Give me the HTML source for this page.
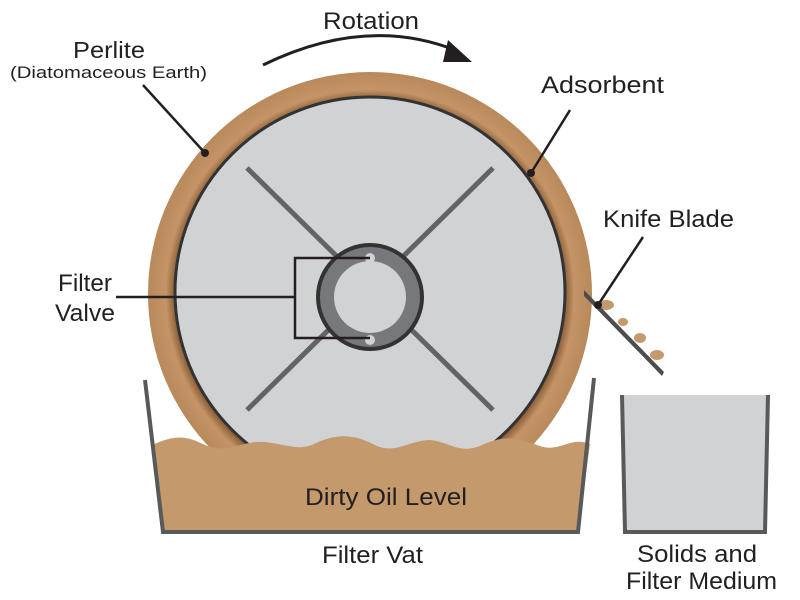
<!DOCTYPE html>
<html><head><style>
body{margin:0;background:#fff}
svg{display:block}
text{font-family:"Liberation Sans",sans-serif;fill:#231f20}
</style></head><body>
<svg width="800" height="600" viewBox="0 0 800 600">
<defs>
<radialGradient id="ring" cx="370" cy="294" r="222" gradientUnits="userSpaceOnUse">
<stop offset="0.86" stop-color="#6e4520"/>
<stop offset="0.92" stop-color="#c49466"/>
<stop offset="1" stop-color="#b8895a"/>
</radialGradient>
</defs>
<circle cx="370" cy="294" r="222" fill="url(#ring)"/>
<circle cx="370" cy="292" r="195" fill="#d1d2d4" stroke="#333" stroke-width="3"/>
<line x1="247" y1="168" x2="493" y2="410" stroke="#626366" stroke-width="5"/>
<line x1="493" y1="168" x2="247" y2="410" stroke="#626366" stroke-width="5"/>
<circle cx="370" cy="297" r="54" fill="#333"/>
<circle cx="370" cy="297" r="50" fill="#77787b"/>
<circle cx="370" cy="297" r="36" fill="#d1d2d4"/>
<circle cx="370" cy="258" r="5" fill="#d1d2d4"/>
<circle cx="370" cy="340" r="5" fill="#d1d2d4"/>
<polyline points="370,258 295,258 295,338 370,338" fill="none" stroke="#231f20" stroke-width="2.5"/>
<line x1="116" y1="297" x2="295" y2="297" stroke="#231f20" stroke-width="2.5"/>
<path d="M152,445 C175,435 185,435 205,445 C230,455 240,440 265,442 C290,445 300,452 318,442 C340,433 355,435 375,445 C395,455 410,440 430,440 C450,442 460,455 482,445 C505,435 515,437 540,446 C560,453 570,436 590,444 L578,532 L163,532 Z" fill="#c4996b"/>
<polyline points="145,380 163,532 578,532 594,378" fill="none" stroke="#58595b" stroke-width="4"/>
<path d="M622,395 L768,395 L765,532 L625,532 Z" fill="#d1d2d4"/>
<polyline points="622,395 625,532 765,532 768,395" fill="none" stroke="#58595b" stroke-width="4"/>
<ellipse cx="606" cy="305" rx="8" ry="5" fill="#c4996b"/>
<ellipse cx="623" cy="322" rx="5" ry="4" fill="#c4996b"/>
<ellipse cx="640" cy="338" rx="6" ry="5" fill="#c4996b"/>
<ellipse cx="657" cy="355" rx="7" ry="5" fill="#c4996b"/>
<polygon points="584,290 664,372 662,376 584,296" fill="#4d4d4f"/>
<path d="M263,65 Q365,15 455,50" fill="none" stroke="#231f20" stroke-width="3"/>
<polygon points="448,40 472,62 443,62" fill="#231f20"/>
<line x1="143" y1="85" x2="205" y2="153" stroke="#231f20" stroke-width="2.5"/>
<circle cx="205" cy="153" r="4" fill="#231f20"/>
<line x1="570" y1="110" x2="531" y2="173" stroke="#231f20" stroke-width="2.5"/>
<circle cx="531" cy="173" r="4" fill="#231f20"/>
<line x1="643" y1="237" x2="598" y2="305" stroke="#231f20" stroke-width="2.5"/>
<circle cx="598" cy="305" r="4" fill="#231f20"/>
<text x="323" y="29" font-size="24" textLength="96" lengthAdjust="spacingAndGlyphs">Rotation</text>
<text x="73" y="58" font-size="23" textLength="72" lengthAdjust="spacingAndGlyphs">Perlite</text>
<text x="10" y="78" font-size="17" textLength="197" lengthAdjust="spacingAndGlyphs">(Diatomaceous Earth)</text>
<text x="541" y="93" font-size="24" textLength="123" lengthAdjust="spacingAndGlyphs">Adsorbent</text>
<text x="603" y="227" font-size="24" textLength="131" lengthAdjust="spacingAndGlyphs">Knife Blade</text>
<text x="58" y="291" font-size="24" textLength="54" lengthAdjust="spacingAndGlyphs">Filter</text>
<text x="55" y="321" font-size="24" textLength="60" lengthAdjust="spacingAndGlyphs">Valve</text>
<text x="305" y="505" font-size="24" textLength="162" lengthAdjust="spacingAndGlyphs">Dirty Oil Level</text>
<text x="322" y="563" font-size="24" textLength="101" lengthAdjust="spacingAndGlyphs">Filter Vat</text>
<text x="637" y="562" font-size="24" textLength="120" lengthAdjust="spacingAndGlyphs">Solids and</text>
<text x="626" y="589" font-size="24" textLength="151" lengthAdjust="spacingAndGlyphs">Filter Medium</text>
</svg>
</body></html>
